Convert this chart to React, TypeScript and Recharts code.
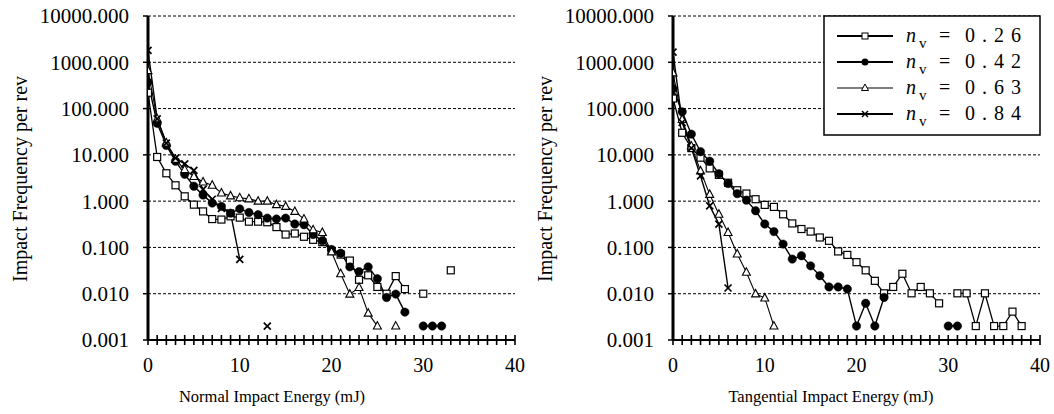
import React from 'react';
import { LineChart, Line, XAxis, YAxis, CartesianGrid, Legend } from 'recharts';

// Energy bins (mJ)
const energies: number[] = Array.from({ length: 41 }, (_, i) => i);
const yTicks: number[] = [0.001, 0.01, 0.1, 1, 10, 100, 1000, 10000];
const seriesLabels: string[] = ['0.26', '0.42', '0.63', '0.84'];

// Normal impact energy: frequency per rev (null = no impacts)
const normal026: (number | null)[] = [220, 9, 4.0, 2.2, 1.27, 0.84, 0.6, 0.41, 0.4, 0.47, 0.44, 0.36, 0.36, 0.35, 0.275, 0.19, 0.2, 0.17, 0.146, 0.13, 0.084, 0.07, 0.052, 0.02, 0.025, 0.014, 0.01, 0.024, 0.0126, null, 0.01, null, null, 0.032];
const normal042: (number | null)[] = [370, 48, 16, 7.3, 3.8, 2.1, 1.35, 0.91, 0.77, 0.55, 0.68, 0.57, 0.51, 0.43, 0.41, 0.43, 0.32, 0.31, 0.19, 0.14, 0.09, 0.075, 0.038, 0.03, 0.038, 0.021, 0.0083, 0.0098, 0.004, null, 0.002, 0.002, 0.002];
const normal063: (number | null)[] = [660, 60, 18, 8.0, 4.8, 3.4, 2.6, 2.2, 1.5, 1.3, 1.18, 1.12, 1.0, 1.0, 0.84, 0.77, 0.6, 0.41, 0.24, 0.21, 0.08, 0.027, 0.0098, 0.0136, 0.0038, 0.002, null, 0.002];
const normal084: (number | null)[] = [1800, 60, 18, 8.5, 6.4, 4.6, 1.8, 1.1, 0.7, 0.55, 0.055, null, null, 0.002];

// Tangential impact energy: frequency per rev
const tang026: (number | null)[] = [165, 30, 14, 8.7, 5.1, 3.7, 2.5, 1.72, 1.46, 1.1, 0.83, 0.75, 0.52, 0.33, 0.25, 0.22, 0.164, 0.139, 0.082, 0.069, 0.048, 0.032, 0.019, 0.0102, 0.014, 0.027, 0.0102, 0.014, 0.0102, 0.0062, null, 0.0102, 0.0102, 0.002, 0.0102, 0.002, 0.002, 0.0041, 0.002];
const tang042: (number | null)[] = [270, 85, 28, 11.7, 7.3, 3.9, 2.4, 1.45, 1.05, 0.62, 0.32, 0.22, 0.118, 0.056, 0.066, 0.04, 0.0245, 0.014, 0.014, 0.0126, 0.002, 0.0062, 0.002, 0.0083, null, null, null, null, null, null, 0.002, 0.002];
const tang063: (number | null)[] = [590, 58, 15.5, 4.5, 1.4, 0.52, 0.21, 0.072, 0.029, 0.0099, 0.0081, 0.002];
const tang084: (number | null)[] = [1660, 50, 14, 3.5, 0.79, 0.32, 0.0133];

const buildRows = (a: (number | null)[], b: (number | null)[], c: (number | null)[], d: (number | null)[]) =>
  energies.map((e, i) => ({
    e,
    s1: a[i] ?? null,
    s2: b[i] ?? null,
    s3: c[i] ?? null,
    s4: d[i] ?? null,
  }));

const normalRows = buildRows(normal026, normal042, normal063, normal084);
const tangRows = buildRows(tang026, tang042, tang063, tang084);

const FONT = "'Liberation Serif', 'Times New Roman', serif";

const ok = (p: any) => p && p.cx != null && p.cy != null && p.value != null && isFinite(p.cx) && isFinite(p.cy);

const SquareDot = (p: any) =>
  ok(p) ? <rect key={p.key} x={p.cx - 3.5} y={p.cy - 3.5} width={7} height={7} fill="#fff" stroke="#000" strokeWidth={1.2} /> : <g key={p.key} />;
const CircleDot = (p: any) =>
  ok(p) ? <circle key={p.key} cx={p.cx} cy={p.cy} r={4.2} fill="#000" stroke="#000" strokeWidth={0.5} /> : <g key={p.key} />;
const TriangleDot = (p: any) =>
  ok(p) ? (
    <polygon key={p.key} points={`${p.cx},${p.cy - 4.5} ${p.cx - 4},${p.cy + 3} ${p.cx + 4},${p.cy + 3}`} fill="#fff" stroke="#000" strokeWidth={1.1} />
  ) : (
    <g key={p.key} />
  );
const CrossDot = (p: any) =>
  ok(p) ? (
    <g key={p.key} stroke="#000" strokeWidth={1.7}>
      <line x1={p.cx - 3.5} y1={p.cy - 3.5} x2={p.cx + 3.5} y2={p.cy + 3.5} />
      <line x1={p.cx - 3.5} y1={p.cy + 3.5} x2={p.cx + 3.5} y2={p.cy - 3.5} />
    </g>
  ) : (
    <g key={p.key} />
  );

const dots = [SquareDot, CircleDot, TriangleDot, CrossDot];
const widths = [1.3, 1.4, 1.1, 1.4];

const XTick = (props: any) => {
  const { x, y, payload } = props;
  const v = payload.value as number;
  return (
    <g>
      <line x1={x} x2={x} y1={y - 5} y2={y + 5} stroke="#000" strokeWidth={1.6} />
      {v % 10 === 0 ? (
        <text x={x} y={y + 32} textAnchor="middle" fontFamily={FONT} fontSize={20} fill="#000">
          {v}
        </text>
      ) : null}
    </g>
  );
};

const LegendBox = () => {
  const rows = [21, 47, 73, 99];
  const shapes = [
    (cx: number, cy: number) => <rect x={cx - 3} y={cy - 3} width={6} height={6} fill="#fff" stroke="#000" strokeWidth={1} />,
    (cx: number, cy: number) => <circle cx={cx} cy={cy} r={3.5} fill="#000" />,
    (cx: number, cy: number) => <polygon points={`${cx},${cy - 4} ${cx - 3.5},${cy + 2.5} ${cx + 3.5},${cy + 2.5}`} fill="#fff" stroke="#000" strokeWidth={1} />,
    (cx: number, cy: number) => (
      <g stroke="#000" strokeWidth={1.5}>
        <line x1={cx - 3} y1={cy - 3} x2={cx + 3} y2={cy + 3} />
        <line x1={cx - 3} y1={cy + 3} x2={cx + 3} y2={cy - 3} />
      </g>
    ),
  ];
  return (
    <svg width={218} height={121} style={{ display: 'block' }}>
      <rect x={1} y={1} width={216} height={119} fill="#fff" stroke="#000" strokeWidth={1.5} />
      {rows.map((ry, i) => (
        <g key={i}>
          <line x1={14} x2={70} y1={ry} y2={ry} stroke="#000" strokeWidth={i === 2 ? 1.2 : 2} />
          {shapes[i](42, ry)}
          <text x={83} y={ry + 6} fontFamily={FONT} fontSize={20} fontStyle="italic" fill="#000">n</text>
          <text x={96} y={ry + 12} fontFamily={FONT} fontSize={15} fill="#000">v</text>
          <text x={116} y={ry + 6} fontFamily={FONT} fontSize={20} fill="#000">=</text>
          <text x={142} y={ry + 6} fontFamily={FONT} fontSize={20} letterSpacing={7} fill="#000">{seriesLabels[i]}</text>
        </g>
      ))}
    </svg>
  );
};

type PanelProps = {
  rows: any[];
  width: number;
  right: number;
  xTitle: string;
  xTitleCenter: number;
  legend?: boolean;
};

const Panel = ({ rows, width, right, xTitle, xTitleCenter, legend }: PanelProps) => {
  return (
    <LineChart width={width} height={414} data={rows} margin={{ top: 16, right, bottom: 14, left: 0 }}>
      <CartesianGrid vertical={false} stroke="#000" strokeDasharray="3 2" strokeWidth={1} />
      <XAxis
        dataKey="e"
        type="number"
        domain={[0, 40]}
        ticks={energies}
        interval={0}
        height={60}
        tickSize={0}
        tickMargin={0}
        tickLine={false}
        tick={<XTick />}
        axisLine={{ stroke: '#000', strokeWidth: 2 }}
        allowDataOverflow
        label={() => (
          <text x={xTitleCenter} y={402} textAnchor="middle" fontFamily={FONT} fontSize={16.5} fill="#000">
            {xTitle}
          </text>
        )}
      />
      <YAxis
        scale="log"
        type="number"
        domain={[0.001, 10000]}
        ticks={yTicks}
        interval={0}
        allowDataOverflow
        width={148}
        tickSize={5}
        tickMargin={14}
        tickLine={{ stroke: '#000', strokeWidth: 1.5 }}
        axisLine={{ stroke: '#000', strokeWidth: 3 }}
        tickFormatter={(v: number) => v.toFixed(3)}
        tick={{ fontSize: 21, fontFamily: FONT, fill: '#000' }}
        label={() => (
          <text x={27} y={179} transform="rotate(-90 27 179)" textAnchor="middle" fontFamily={FONT} fontSize={20} fill="#000">
            Impact Frequency per rev
          </text>
        )}
      />
      {['s1', 's2', 's3', 's4'].map((k, i) => (
        <Line
          key={k}
          dataKey={k}
          name={`n_v = ${seriesLabels[i]}`}
          type="linear"
          stroke="#000"
          strokeWidth={widths[i]}
          dot={dots[i]}
          activeDot={false}
          connectNulls={false}
          isAnimationActive={false}
        />
      ))}
      {legend ? (
        <Legend
          layout="vertical"
          align="center"
          verticalAlign="middle"
          content={() => <LegendBox />}
          wrapperStyle={{ position: 'absolute', left: 298, top: 15, width: 218, height: 121 }}
        />
      ) : null}
    </LineChart>
  );
};

export default function App() {
  return (
    <div style={{ position: 'absolute', left: 0, top: 0, width: 1054, height: 414, background: '#fff' }}>
      <div style={{ position: 'absolute', left: 0, top: 0 }}>
        <Panel rows={normalRows} width={530} right={15} xTitle="Normal Impact Energy (mJ)" xTitleCenter={272} />
      </div>
      <div style={{ position: 'absolute', left: 525, top: 0 }}>
        <Panel rows={tangRows} width={529} right={14} xTitle="Tangential Impact Energy (mJ)" xTitleCenter={306} legend />
      </div>
    </div>
  );
}
